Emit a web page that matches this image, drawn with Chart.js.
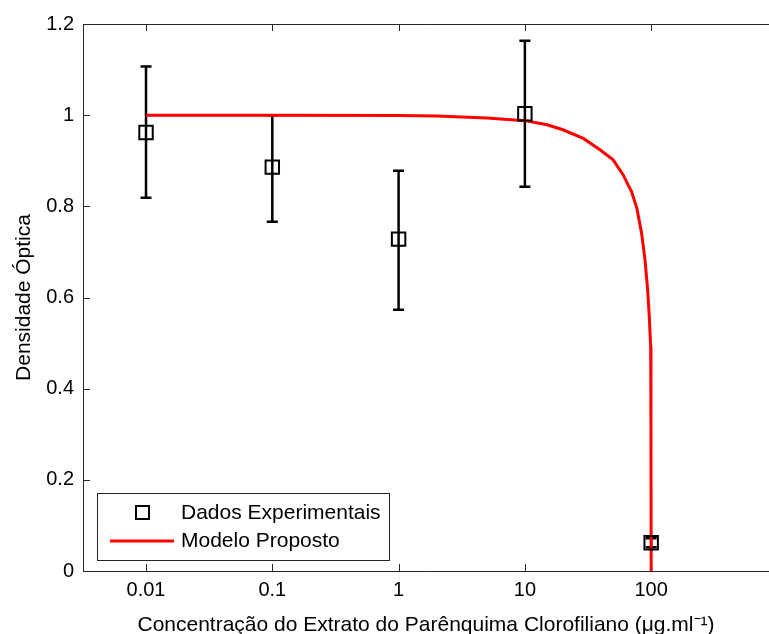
<!DOCTYPE html>
<html>
<head>
<meta charset="utf-8">
<script src="https://cdn.jsdelivr.net/npm/chart.js@4/dist/chart.umd.min.js"></script>
<style>
  body { margin: 0; background: #fff; overflow: hidden; }
</style>
</head>
<body>
<canvas id="chart" width="769" height="634"></canvas>
<script>
// experimental points (concentration in ug/ml)
const concentrations = [0.01, 0.1, 1, 10, 100]
const densityMean = [0.962, 0.886, 0.728, 1.003, 0.062]
const densityLow = [0.819, 0.766, 0.573, 0.843, 0.052]
const densityHigh = [1.107, 1.0, 0.878, 1.163, 0.072]

// fitted model
const modelX = [0.01, 0.1, 1, 2, 5, 10, 15, 20, 29, 39.3, 50, 60, 70, 77, 84, 89.4, 93.8, 96.6, 99.1, 99.6, 100]
const modelY = [1.0, 1.0, 0.999, 0.998, 0.994, 0.988, 0.979, 0.968, 0.949, 0.924, 0.902, 0.869, 0.832, 0.796, 0.741, 0.682, 0.617, 0.558, 0.492, 0.33, 0]

const xTickValues = [0.01, 0.1, 1, 10, 100]
const xTickLabels = ["0.01", "0.1", "1", "10", "100"]
const yTickValues = [0, 0.2, 0.4, 0.6, 0.8, 1, 1.2]
const yTickLabels = ["0", "0.2", "0.4", "0.6", "0.8", "1", "1.2"]

const axisColor = "#262626"
const fontFamily = "'Liberation Sans', Arial, sans-serif"

const errorBars = {
    id: "errorBars",
    beforeDatasetsDraw(chart) {
        const { ctx, scales: { x, y } } = chart
        ctx.save()
        ctx.strokeStyle = "#000"
        ctx.lineWidth = 2.5
        for (let i = 0; i < concentrations.length; i++) {
            const px = x.getPixelForValue(concentrations[i])
            const top = y.getPixelForValue(densityHigh[i])
            const bot = y.getPixelForValue(densityLow[i])
            ctx.beginPath()
            ctx.moveTo(px, top)
            ctx.lineTo(px, bot)
            ctx.moveTo(px - 5.5, top)
            ctx.lineTo(px + 5.5, top)
            ctx.moveTo(px - 5.5, bot)
            ctx.lineTo(px + 5.5, bot)
            ctx.stroke()
        }
        ctx.restore()
    }
}

// matlab style box with inward ticks
const frame = {
    id: "frame",
    beforeDatasetsDraw(chart) {
        const { ctx, chartArea: a, scales: { x, y } } = chart
        ctx.save()
        ctx.strokeStyle = axisColor
        ctx.lineWidth = 1
        ctx.beginPath()
        ctx.moveTo(a.right, a.top + 0.5)
        ctx.lineTo(a.left + 0.5, a.top + 0.5)
        ctx.lineTo(a.left + 0.5, a.bottom + 0.5)
        ctx.lineTo(a.right, a.bottom + 0.5)
        yTickValues.forEach(v => {
            const py = Math.round(y.getPixelForValue(v)) + 0.5
            ctx.moveTo(a.left, py)
            ctx.lineTo(a.left + 7, py)
        })
        xTickValues.forEach(v => {
            const px = Math.round(x.getPixelForValue(v)) + 0.5
            ctx.moveTo(px, a.bottom)
            ctx.lineTo(px, a.bottom - 7)
            ctx.moveTo(px, a.top)
            ctx.lineTo(px, a.top + 7)
        })
        ctx.stroke()
        ctx.restore()
    }
}

const boxLegend = {
    id: "boxLegend",
    afterDraw(chart) {
        const { ctx } = chart
        const ds = chart.data.datasets
        ctx.save()
        ctx.fillStyle = "#fff"
        ctx.fillRect(97, 493, 292, 67)
        ctx.strokeStyle = axisColor
        ctx.lineWidth = 1
        ctx.strokeRect(97.5, 493.5, 292, 67)

        ctx.strokeStyle = ds[0].borderColor
        ctx.lineWidth = 2
        ctx.strokeRect(136, 506, 13, 13)

        ctx.strokeStyle = ds[1].borderColor
        ctx.lineWidth = 3
        ctx.beginPath()
        ctx.moveTo(110, 541)
        ctx.lineTo(174, 541)
        ctx.stroke()

        ctx.fillStyle = "#000"
        ctx.font = "21px " + fontFamily
        ctx.textBaseline = "middle"
        ctx.fillText(ds[0].label, 181, 513)
        ctx.fillText(ds[1].label, 181, 541)
        ctx.restore()
    }
}

const ctx = document.getElementById("chart").getContext("2d")

new Chart(ctx, {
    data: {
        datasets: [
            {
                type: "scatter",
                label: "Dados Experimentais",
                data: concentrations.map((c, i) => ({ x: c, y: densityMean[i] })),
                pointStyle: "rect",
                pointRadius: 9.5,
                pointHoverRadius: 9.5,
                borderColor: "#000",
                backgroundColor: "rgba(0,0,0,0)",
                borderWidth: 2
            },
            {
                type: "line",
                label: "Modelo Proposto",
                data: modelX.map((v, i) => ({ x: v, y: modelY[i] })),
                borderColor: "#ff0000",
                borderWidth: 3,
                pointRadius: 0,
                tension: 0,
                fill: false
            }
        ]
    },
    options: {
        responsive: false,
        animation: false,
        events: [],
        layout: { autoPadding: false, padding: { top: 24, left: 0, right: 0, bottom: 0 } },
        plugins: {
            legend: { display: false },
            tooltip: { enabled: false }
        },
        scales: {
            x: {
                type: "logarithmic",
                min: 0.00317,
                max: 857,
                afterBuildTicks: scale => {
                    scale.ticks = xTickValues.map(v => ({ value: v }))
                },
                afterFit: scale => {
                    scale.height = 63
                    scale.paddingLeft = 0
                    scale.paddingRight = 0
                },
                grid: { display: false, drawTicks: false },
                border: { display: false },
                ticks: {
                    padding: 7,
                    color: "#000",
                    font: { family: fontFamily, size: 20 },
                    maxRotation: 0,
                    autoSkip: false,
                    callback: (value, index) => xTickLabels[index]
                },
                title: {
                    display: true,
                    text: "Concentração do Extrato do Parênquima Clorofiliano (μg.ml⁻¹)",
                    color: "#000",
                    font: { family: fontFamily, size: 21, lineHeight: 0.8 },
                    padding: 0
                }
            },
            y: {
                min: 0,
                max: 1.2,
                afterBuildTicks: scale => {
                    scale.ticks = yTickValues.map(v => ({ value: v }))
                },
                afterFit: scale => { scale.width = 83 },
                grid: { display: false, drawTicks: false },
                border: { display: false },
                ticks: {
                    padding: 9,
                    color: "#000",
                    font: { family: fontFamily, size: 20 },
                    callback: (value, index) => yTickLabels[index]
                },
                title: {
                    display: true,
                    text: "Densidade Óptica",
                    color: "#000",
                    font: { family: fontFamily, size: 21, lineHeight: 1.2 },
                    padding: { top: 12, bottom: 0 }
                }
            }
        }
    },
    plugins: [frame, errorBars, boxLegend]
})
</script>
</body>
</html>
